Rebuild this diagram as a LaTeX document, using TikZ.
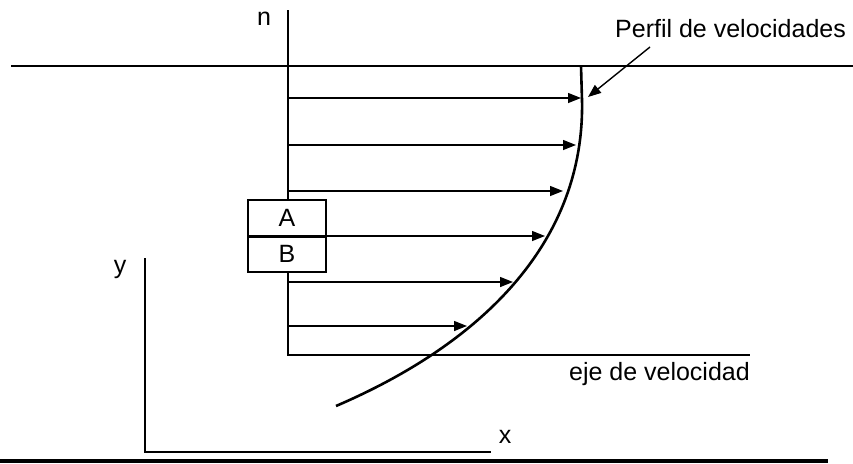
\documentclass[tikz,border=0pt]{standalone}
\usepackage{fontspec}
\setmainfont{Liberation Sans}
\usetikzlibrary{arrows.meta}
\begin{document}
\begin{tikzpicture}[x=1pt,y=-1pt,
  ln/.style={line width=1.4pt},
  vel/.style={line width=1.4pt,-{Triangle[length=13pt,width=10pt]}},
  lbl/.style={font=\fontsize{25}{29}\selectfont, inner sep=0pt},
  cell/.style={draw, line width=1.4pt, fill=white, minimum width=78pt, minimum height=36pt, inner sep=0pt, font=\fontsize{25}{29}\selectfont}]
\useasboundingbox (0,0) rectangle (853,463);
% axes and surfaces
\coordinate (surfL) at (11,66);
\coordinate (surfR) at (853,66);
\coordinate (nTop) at (288,10);
\coordinate (nBot) at (288,355);
\coordinate (vEnd) at (750,355);
\coordinate (yTop) at (145,258);
\coordinate (origin) at (145,452);
\coordinate (xEnd) at (491,452);
\coordinate (groundL) at (0,461);
\coordinate (groundR) at (828,461);
\draw[ln] (surfL) -- (surfR);
\draw[ln] (nTop) -- (nBot) -- (vEnd);
\draw[ln] (yTop) -- (origin) -- (xEnd);
\draw[line width=3.5pt] (groundL) -- (groundR);
% velocity profile
\coordinate (pBot) at (336,406);
\coordinate (pMid) at (582,100);
\coordinate (pTop) at (581,66);
\draw[line width=2.6pt, line join=round] (pBot) .. controls (485,342) and (585,240) .. (pMid) -- (pTop);
% velocity vectors
\foreach \i/\yy/\xx in {1/98/581, 2/145/576, 3/191/563, 4/236/545, 5/282/513, 6/326/467} {
  \coordinate (s\i) at (288,\yy);
  \coordinate (e\i) at (\xx,\yy);
  \draw[vel] (s\i) -- (e\i);
}
% box
\node[cell] (A) at (287,218) {A};
\node[cell] (B) at (287,254) {B};
\draw[line width=2.6pt] (A.south west) -- (A.south east);
% labels
\node[lbl, anchor=base] (n) at (264,25) {n};
\node[lbl, anchor=base] (y) at (120,273) {y};
\node[lbl, anchor=base] (x) at (505,443) {x};
\node[lbl, anchor=base east] (eje) at (750,380) {eje de velocidad};
\node[lbl, anchor=base west] (perfil) at (615,37) {Perfil de velocidades};
\coordinate (pStart) at (650,47);
\coordinate (pTip) at (588,97);
\draw[vel] (pStart) -- (pTip);
\end{tikzpicture}
\end{document}
